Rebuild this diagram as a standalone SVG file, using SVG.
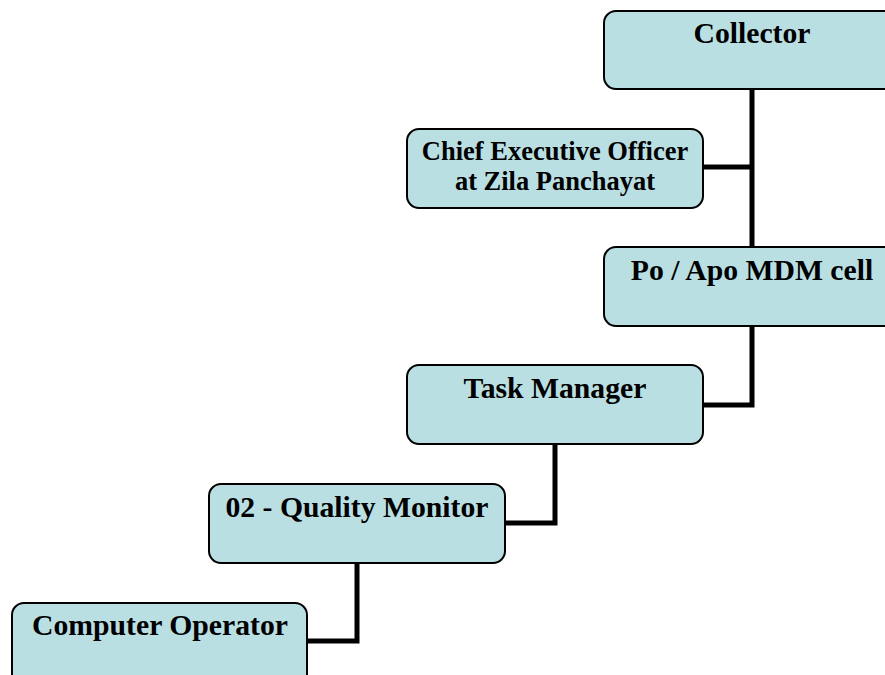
<svg xmlns="http://www.w3.org/2000/svg" width="885" height="675" viewBox="0 0 885 675">
  <style>
    .box { fill: #b9dfe3; stroke: #000; stroke-width: 2; }
    .lbl { font-family: "Liberation Serif", "Times New Roman", serif; font-weight: bold; font-size: 29.7px; fill: #000; text-anchor: middle; }
    .lbl2 { font-family: "Liberation Serif", "Times New Roman", serif; font-weight: bold; font-size: 26.5px; fill: #000; text-anchor: middle; }
    .wire { fill: none; stroke: #000; stroke-width: 5; stroke-linejoin: miter; }
  </style>
  <rect width="885" height="675" fill="#fff"/>

  <!-- reporting lines -->
  <g id="connectors">
    <path class="wire" d="M752,89 V248"/>
    <path class="wire" d="M703,167 H752"/>
    <path class="wire" d="M752,326 V405 H703"/>
    <path class="wire" d="M555,444 V523 H505"/>
    <path class="wire" d="M357,563 V641 H307"/>
  </g>

  <g id="collector">
    <rect class="box" x="604" y="11" width="296" height="78" rx="12"/>
    <text class="lbl" x="752" y="43">Collector</text>
  </g>

  <g id="ceo">
    <rect class="box" x="407" y="129" width="296" height="79" rx="12"/>
    <text class="lbl2" x="555" y="160">Chief Executive Officer</text>
    <text class="lbl2" x="555" y="190">at Zila Panchayat</text>
  </g>

  <g id="po-apo">
    <rect class="box" x="604" y="247" width="296" height="79" rx="12"/>
    <text class="lbl" x="752" y="280">Po / Apo MDM cell</text>
  </g>

  <g id="task-manager">
    <rect class="box" x="407" y="365" width="296" height="79" rx="12"/>
    <text class="lbl" x="555" y="398">Task Manager</text>
  </g>

  <g id="quality-monitor">
    <rect class="box" x="209" y="484" width="296" height="79" rx="12"/>
    <text class="lbl" x="357" y="517">02 - Quality Monitor</text>
  </g>

  <g id="computer-operator">
    <rect class="box" x="12" y="603" width="295" height="90" rx="12"/>
    <text class="lbl" x="160" y="635">Computer Operator</text>
  </g>
</svg>
